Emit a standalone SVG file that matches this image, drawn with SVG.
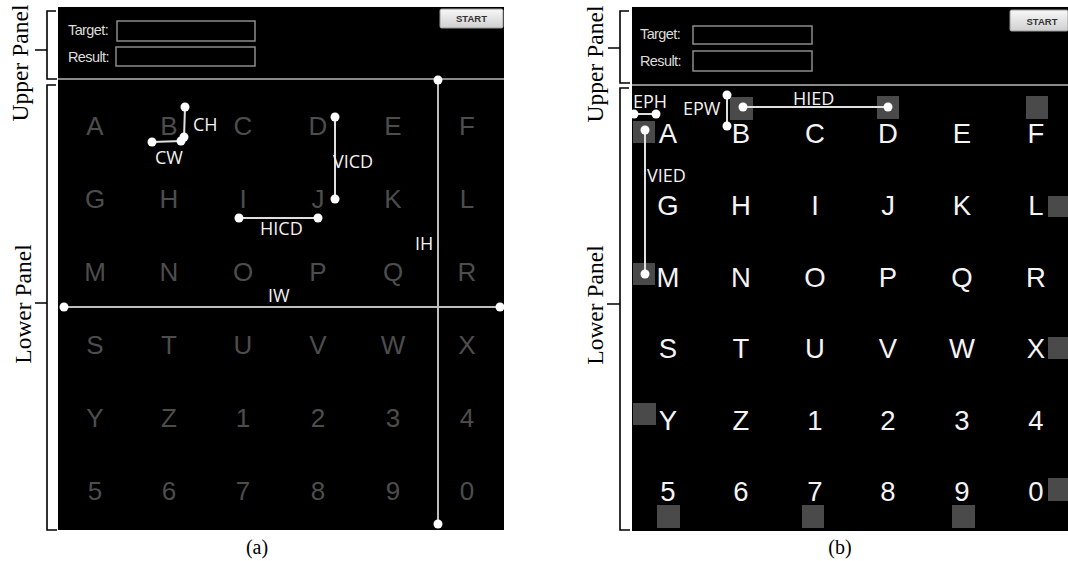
<svg xmlns="http://www.w3.org/2000/svg" width="1068" height="561" viewBox="0 0 1068 561">
<defs>
<linearGradient id="btn" x1="0" y1="0" x2="0" y2="1">
<stop offset="0" stop-color="#f8f8f8"/>
<stop offset="1" stop-color="#cfcfcf"/>
</linearGradient>
<style>
.panel{fill:#000}
.div{stroke:#8a8a8a;stroke-width:2}
.box{fill:#000;stroke:#8c8c8c;stroke-width:1.5}
.lbl{font-family:"Liberation Sans",Arial,sans-serif;font-size:14.5px;fill:#dcdcdc;letter-spacing:-0.6px}
.btn{fill:url(#btn);stroke:#9a9a9a;stroke-width:1}
.btnt{font-family:"Liberation Sans",Arial,sans-serif;font-size:9.5px;fill:#333;text-anchor:middle;font-weight:bold}
.ka{font-family:"Liberation Sans",Arial,sans-serif;font-size:26px;fill:#4d4d4d;text-anchor:middle}
.kb{font-family:"Liberation Sans",Arial,sans-serif;font-size:27.5px;fill:#f4f4f4;text-anchor:middle}
.sq{fill:#4a4a4a}
.dim{stroke:#e0e0e0;stroke-width:2;fill:none}
.axis{stroke:#bdbdbd;stroke-width:2;fill:none}
.dot{fill:#fff}
.dl{font-family:"Open Sans","Liberation Sans",sans-serif;font-size:18px;fill:#f2f2f2}
.br{stroke:#000;stroke-width:1.6;fill:none}
.side{font-family:"Liberation Serif","Times New Roman",serif;font-size:23.5px;fill:#000;text-anchor:middle}
.cap{font-family:"Liberation Serif","Times New Roman",serif;font-size:20px;fill:#000;text-anchor:middle}
</style>
</defs>
<rect width="1068" height="561" fill="#fff"/>

<!-- ===== Panel (a) ===== -->
<g id="panel-a">
<rect class="panel" x="58" y="7" width="446" height="523"/>
<line class="div" x1="58" y1="79" x2="504" y2="79"/>
</g>
<g id="a-upper">
<text class="lbl" x="68" y="35">Target:</text>
<rect class="box" x="117" y="21" width="138" height="20"/>
<text class="lbl" x="68" y="62">Result:</text>
<rect class="box" x="116" y="47" width="139" height="19"/>
<rect class="btn" x="440" y="9" width="63" height="19" rx="1.5"/>
<text class="btnt" x="471.5" y="22">START</text>
</g>
<g id="a-keys">
<text class="ka" x="95" y="135">A</text><text class="ka" x="169" y="135">B</text><text class="ka" x="243" y="135">C</text><text class="ka" x="318" y="135">D</text><text class="ka" x="393" y="135">E</text><text class="ka" x="467" y="135">F</text>
<text class="ka" x="95" y="208">G</text><text class="ka" x="169" y="208">H</text><text class="ka" x="243" y="208">I</text><text class="ka" x="318" y="208">J</text><text class="ka" x="393" y="208">K</text><text class="ka" x="467" y="208">L</text>
<text class="ka" x="95" y="281">M</text><text class="ka" x="169" y="281">N</text><text class="ka" x="243" y="281">O</text><text class="ka" x="318" y="281">P</text><text class="ka" x="393" y="281">Q</text><text class="ka" x="467" y="281">R</text>
<text class="ka" x="95" y="354">S</text><text class="ka" x="169" y="354">T</text><text class="ka" x="243" y="354">U</text><text class="ka" x="318" y="354">V</text><text class="ka" x="393" y="354">W</text><text class="ka" x="467" y="354">X</text>
<text class="ka" x="95" y="427">Y</text><text class="ka" x="169" y="427">Z</text><text class="ka" x="243" y="427">1</text><text class="ka" x="318" y="427">2</text><text class="ka" x="393" y="427">3</text><text class="ka" x="467" y="427">4</text>
<text class="ka" x="95" y="500">5</text><text class="ka" x="169" y="500">6</text><text class="ka" x="243" y="500">7</text><text class="ka" x="318" y="500">8</text><text class="ka" x="393" y="500">9</text><text class="ka" x="467" y="500">0</text>
</g>
<g id="a-dimensions">
<line class="axis" x1="438" y1="80" x2="438" y2="524"/>
<line class="axis" x1="64" y1="307" x2="500" y2="307"/>
<line class="dim" x1="185" y1="107" x2="184" y2="138"/>
<line class="dim" x1="152" y1="142" x2="182" y2="141"/>
<line class="dim" x1="335" y1="117" x2="335" y2="199"/>
<line class="dim" x1="239" y1="218" x2="318" y2="218"/>
<circle class="dot" cx="438" cy="80" r="4.5"/><circle class="dot" cx="438" cy="524" r="4.5"/>
<circle class="dot" cx="64" cy="307" r="4.5"/><circle class="dot" cx="500" cy="307" r="4.5"/>
<circle class="dot" cx="185" cy="107" r="4.5"/><circle class="dot" cx="184" cy="137" r="4.5"/>
<circle class="dot" cx="152" cy="142" r="4.5"/><circle class="dot" cx="181" cy="141" r="4.5"/>
<circle class="dot" cx="335" cy="117" r="4.5"/><circle class="dot" cx="335" cy="199" r="4.5"/>
<circle class="dot" cx="239" cy="218" r="4.5"/><circle class="dot" cx="318" cy="218" r="4.5"/>
<text class="dl" x="193" y="131">CH</text>
<text class="dl" x="155" y="164">CW</text>
<text class="dl" x="333" y="168">VICD</text>
<text class="dl" x="260" y="235">HICD</text>
<text class="dl" x="415" y="250">IH</text>
<text class="dl" x="268" y="302">IW</text>
</g>
<g id="a-brackets">
<path class="br" d="M56,11 H47 V79 H57 M35,50 H47"/>
<path class="br" d="M56,85 H47 V530 H57 M35,303 H47"/>
<text class="side" transform="translate(28,63) rotate(-90)">Upper Panel</text>
<text class="side" transform="translate(31,304) rotate(-90)">Lower Panel</text>
<text class="cap" x="257" y="554">(a)</text>
</g>

<!-- ===== Panel (b) ===== -->
<g id="panel-b">
<rect class="panel" x="632" y="7" width="436" height="524"/>
<line class="div" x1="632" y1="85" x2="1068" y2="85"/>
</g>
<g id="b-upper">
<text class="lbl" x="640" y="39">Target:</text>
<rect class="box" x="693" y="26" width="119" height="18"/>
<text class="lbl" x="640" y="66">Result:</text>
<rect class="box" x="693" y="51" width="119" height="20"/>
<rect class="btn" x="1010" y="10" width="58" height="21" rx="1.5"/>
<text class="btnt" x="1042" y="24.5">START</text>
</g>
<g id="b-squares">
<rect class="sq" x="633" y="121" width="22" height="22"/>
<rect class="sq" x="730" y="97" width="23" height="23"/>
<rect class="sq" x="877" y="96" width="22" height="23"/>
<rect class="sq" x="1026" y="96" width="22" height="23"/>
<rect class="sq" x="1048" y="196" width="22" height="21"/>
<rect class="sq" x="633" y="263" width="22" height="22"/>
<rect class="sq" x="1048" y="337" width="22" height="22"/>
<rect class="sq" x="633" y="403" width="23" height="22"/>
<rect class="sq" x="1048" y="478" width="22" height="23"/>
<rect class="sq" x="657" y="505" width="23" height="23"/>
<rect class="sq" x="802" y="505" width="22" height="23"/>
<rect class="sq" x="952" y="505" width="23" height="23"/>
</g>
<g id="b-keys">
<text class="kb" x="668" y="143">A</text><text class="kb" x="741" y="143">B</text><text class="kb" x="815" y="143">C</text><text class="kb" x="888" y="143">D</text><text class="kb" x="962" y="143">E</text><text class="kb" x="1036" y="143">F</text>
<text class="kb" x="668" y="215">G</text><text class="kb" x="741" y="215">H</text><text class="kb" x="815" y="215">I</text><text class="kb" x="888" y="215">J</text><text class="kb" x="962" y="215">K</text><text class="kb" x="1036" y="215">L</text>
<text class="kb" x="668" y="287">M</text><text class="kb" x="741" y="287">N</text><text class="kb" x="815" y="287">O</text><text class="kb" x="888" y="287">P</text><text class="kb" x="962" y="287">Q</text><text class="kb" x="1036" y="287">R</text>
<text class="kb" x="668" y="358">S</text><text class="kb" x="741" y="358">T</text><text class="kb" x="815" y="358">U</text><text class="kb" x="888" y="358">V</text><text class="kb" x="962" y="358">W</text><text class="kb" x="1036" y="358">X</text>
<text class="kb" x="668" y="430">Y</text><text class="kb" x="741" y="430">Z</text><text class="kb" x="815" y="430">1</text><text class="kb" x="888" y="430">2</text><text class="kb" x="962" y="430">3</text><text class="kb" x="1036" y="430">4</text>
<text class="kb" x="668" y="501">5</text><text class="kb" x="741" y="501">6</text><text class="kb" x="815" y="501">7</text><text class="kb" x="888" y="501">8</text><text class="kb" x="962" y="501">9</text><text class="kb" x="1036" y="501">0</text>
</g>
<g id="b-dimensions">
<line class="dim" x1="634" y1="114" x2="656" y2="114"/>
<line class="dim" x1="727" y1="95" x2="727" y2="126"/>
<line class="dim" x1="743" y1="107" x2="888" y2="107"/>
<line class="dim" x1="645" y1="130" x2="645" y2="274"/>
<circle class="dot" cx="634" cy="114" r="4.5"/><circle class="dot" cx="656" cy="114" r="4.5"/>
<circle class="dot" cx="727" cy="95" r="4.5"/><circle class="dot" cx="727" cy="126" r="4.5"/>
<circle class="dot" cx="743" cy="107" r="4.5"/><circle class="dot" cx="888" cy="107" r="4.5"/>
<circle class="dot" cx="645" cy="130" r="4.5"/><circle class="dot" cx="645" cy="274" r="4.5"/>
<text class="dl" x="633" y="108">EPH</text>
<text class="dl" x="683" y="115">EPW</text>
<text class="dl" x="793" y="105">HIED</text>
<text class="dl" x="647" y="182">VIED</text>
</g>
<g id="b-brackets">
<path class="br" d="M629,11 H620 V83 H630 M608,48 H620"/>
<path class="br" d="M629,88 H620 V530 H630 M607,304 H620"/>
<text class="side" transform="translate(603,64) rotate(-90)">Upper Panel</text>
<text class="side" transform="translate(603,305) rotate(-90)">Lower Panel</text>
<text class="cap" x="840" y="554">(b)</text>
</g>
</svg>
